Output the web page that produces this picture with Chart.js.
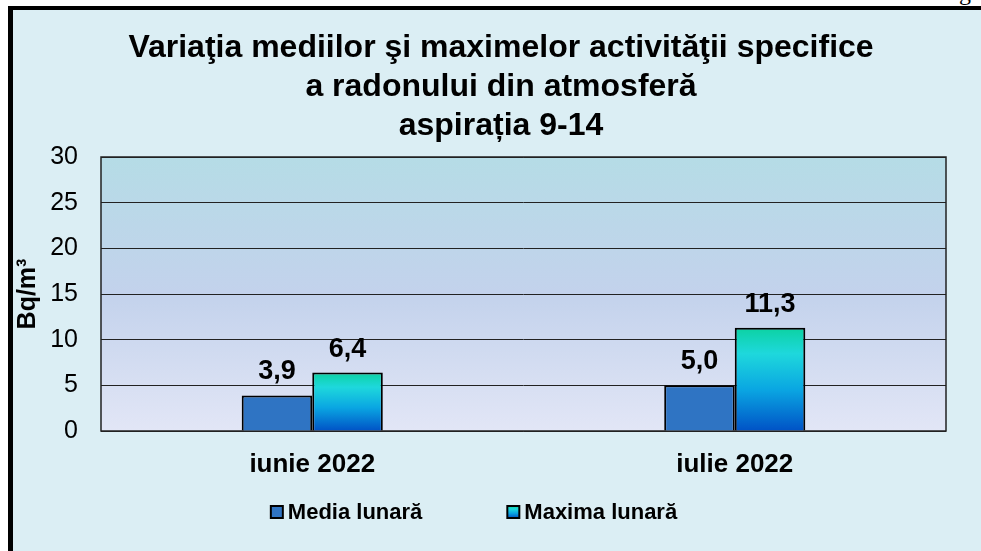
<!DOCTYPE html>
<html>
<head>
<meta charset="utf-8">
<script src="https://cdn.jsdelivr.net/npm/chart.js@4"></script>
<style>
  html, body { margin: 0; padding: 0; background: #fff; width: 981px; height: 551px; overflow: hidden; }
  #frameTop { position: absolute; left: 8px; top: 6px; width: 973px; height: 4px; background: #000; }
  #frameLeft { position: absolute; left: 8px; top: 6px; width: 5px; height: 545px; background: #000; }
  #box { position: absolute; left: 13px; top: 10px; width: 968px; height: 541px; background: #dbeef4; }
  #stray { position: absolute; left: 959px; top: -21px; font: 24px 'Liberation Serif', serif; color: #000; }
</style>
</head>
<body>
<div id="stray">g</div>
<div id="frameTop"></div>
<div id="frameLeft"></div>
<div id="box"><canvas id="radonChart" width="968" height="541"></canvas></div>
<script>
// date
const categories = ['iunie 2022', 'iulie 2022'];
const mediaLunara = [3.9, 5.0];
const maximaLunara = [6.4, 11.3];
const seriesNames = ['Media lunară', 'Maxima lunară'];
const titleLines = [
  'Variaţia mediilor şi maximelor activităţii specifice',
  'a radonului din atmosferă',
  'aspirația 9-14'
];
const yMin = 0, yMax = 30, yStep = 5;
const yTitle = 'Bq/m³';

const FONT = "'Liberation Sans', Arial, sans-serif";

// gradient pentru coloanele "Maxima"
function maximaGradient(c, top, bottom) {
  const g = c.createLinearGradient(0, top, 0, bottom);
  g.addColorStop(0, '#0cd2a2');
  g.addColorStop(0.25, '#1ed8dc');
  g.addColorStop(0.6, '#0aa6e2');
  g.addColorStop(1, '#0052c6');
  return g;
}

function maximaFill(ctx) {
  const chart = ctx.chart;
  if (!chart.chartArea || ctx.type !== 'data') return '#10b0e0';
  const y = chart.scales.y;
  return maximaGradient(chart.ctx, y.getPixelForValue(ctx.parsed.y), y.getPixelForValue(0));
}

// titlul (centrat ca in original, putin la stanga de zona de desen)
const chartTitle = {
  id: 'chartTitle',
  afterDraw(chart) {
    const c = chart.ctx;
    c.save();
    c.font = 'bold 32px ' + FONT;
    c.fillStyle = '#000';
    c.textAlign = 'center';
    c.textBaseline = 'middle';
    titleLines.forEach((line, i) => c.fillText(line, 488, 38 + i * 39));
    c.restore();
  }
};

// fundal zona de desen + chenar
const plotBackground = {
  id: 'plotBackground',
  beforeDraw(chart) {
    const a = chart.chartArea;
    const c = chart.ctx;
    const g = c.createLinearGradient(0, a.top, 0, a.bottom);
    g.addColorStop(0, '#b5dce6');
    g.addColorStop(0.5, '#c3d2ec');
    g.addColorStop(1, '#e2e6f6');
    c.save();
    c.fillStyle = g;
    c.fillRect(a.left, a.top, a.width, a.height);
    c.restore();
  },
  beforeDatasetsDraw(chart) {
    const a = chart.chartArea;
    const c = chart.ctx;
    c.save();
    c.strokeStyle = '#222';
    c.lineWidth = 1.5;
    c.strokeRect(a.left, a.top, a.width, a.height);
    c.restore();
  }
};

// etichete cu valori deasupra coloanelor
const valueLabels = {
  id: 'valueLabels',
  afterDatasetsDraw(chart) {
    const c = chart.ctx;
    c.save();
    c.font = 'bold 27px ' + FONT;
    c.fillStyle = '#000';
    c.textAlign = 'center';
    c.textBaseline = 'alphabetic';
    chart.data.datasets.forEach((ds, i) => {
      chart.getDatasetMeta(i).data.forEach((bar, j) => {
        c.fillText(ds.data[j].toFixed(1).replace('.', ','), bar.x, bar.y - 16);
      });
    });
    c.restore();
  }
};

// legenda desenata manual, sub axa X
const customLegend = {
  id: 'customLegend',
  afterDraw(chart) {
    const c = chart.ctx;
    const centerX = 461, centerY = 502, box = 12, gap = 85, textGap = 5;
    c.save();
    c.font = 'bold 22px ' + FONT;
    c.textBaseline = 'middle';
    const widths = chart.data.datasets.map(ds => box + textGap + c.measureText(ds.label).width);
    const total = widths.reduce((s, w) => s + w, 0) + gap * (widths.length - 1);
    let x = centerX - total / 2;
    chart.data.datasets.forEach((ds, i) => {
      const by = centerY - box / 2;
      c.fillStyle = i === 0 ? ds.backgroundColor : maximaGradient(c, by, by + box);
      c.fillRect(x, by, box, box);
      c.strokeStyle = '#000';
      c.lineWidth = 2;
      c.strokeRect(x, by, box, box);
      c.fillStyle = '#000';
      c.fillText(ds.label, x + box + textGap, centerY + 1);
      x += widths[i] + gap;
    });
    c.restore();
  }
};

const ctx = document.getElementById('radonChart').getContext('2d');

new Chart(ctx, {
  type: 'bar',
  data: {
    labels: categories,
    datasets: [
      {
        label: seriesNames[0],
        data: mediaLunara,
        backgroundColor: '#2f74c3',
        borderColor: '#000',
        borderWidth: 2,
        categoryPercentage: 0.334,
        barPercentage: 1.0
      },
      {
        label: seriesNames[1],
        data: maximaLunara,
        backgroundColor: maximaFill,
        borderColor: '#000',
        borderWidth: 2,
        categoryPercentage: 0.334,
        barPercentage: 1.0
      }
    ]
  },
  options: {
    responsive: false,
    animation: false,
    layout: { padding: { left: 0, right: 35, top: 147, bottom: 70 } },
    plugins: {
      legend: { display: false },
      tooltip: { enabled: false },
      title: { display: false }
    },
    scales: {
      x: {
        grid: { display: false, drawTicks: false },
        border: { display: false },
        ticks: {
          color: '#000',
          padding: 18,
          font: { family: FONT, size: 26, weight: 'bold' }
        },
        afterFit(scale) { scale.height = 50; }
      },
      y: {
        min: yMin,
        max: yMax,
        grid: { color: '#222', lineWidth: 1, drawTicks: false },
        border: { display: false },
        ticks: {
          stepSize: yStep,
          color: '#000',
          padding: 23,
          font: { family: FONT, size: 25 }
        },
        title: {
          display: true,
          text: yTitle,
          color: '#000',
          font: { family: FONT, size: 25, weight: 'bold' },
          padding: { top: 0, bottom: 0 }
        },
        afterFit(scale) { scale.width = 88; }
      }
    }
  },
  plugins: [plotBackground, valueLabels, chartTitle, customLegend]
});
</script>
</body>
</html>
